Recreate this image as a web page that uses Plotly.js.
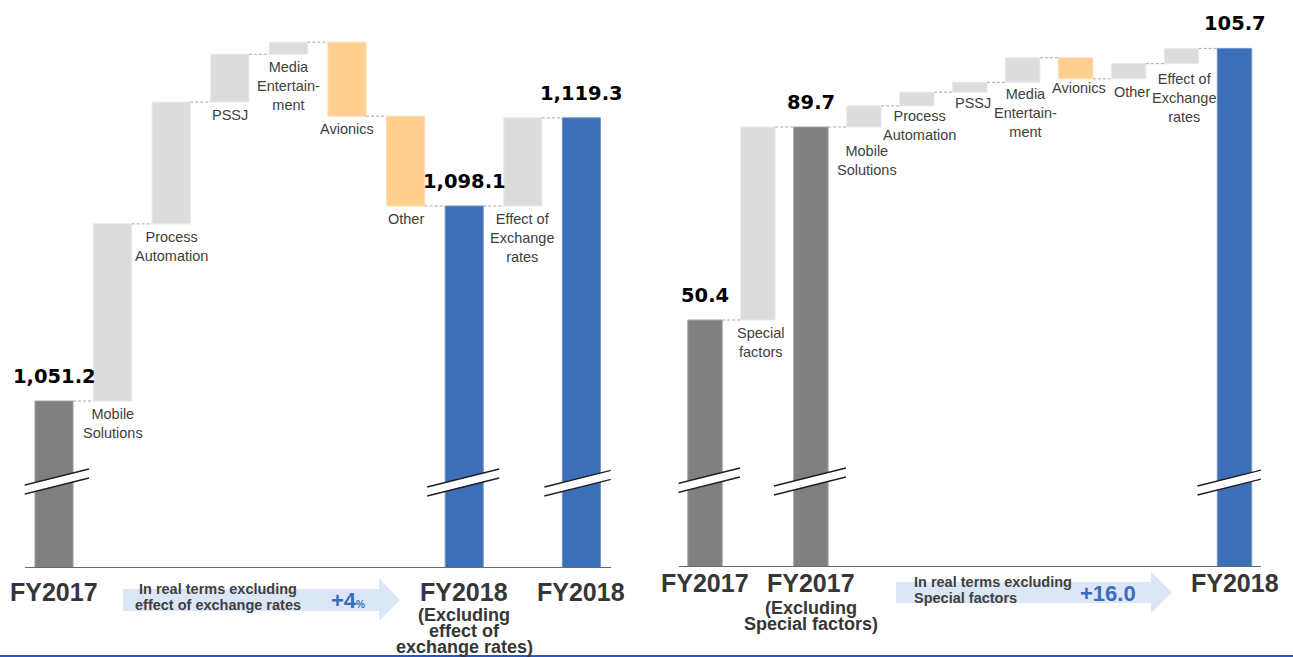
<!DOCTYPE html>
<html>
<head>
<meta charset="utf-8">
<script src="https://cdn.plot.ly/plotly-3.0.1.min.js"></script>
<style>
  html, body { margin: 0; padding: 0; background: #fff; }
  #chart { width: 1293px; height: 657px; }
</style>
</head>
<body>
<div id="chart"></div>
<script>
// ---- Left bridge: sales FY2017 -> FY2018 ----
const leftCategories = ["FY2017", "Mobile Solutions", "Process Automation", "PSSJ",
  "Media Entertainment", "Avionics", "Other",
  "FY2018 (Excluding effect of exchange rates)", "Effect of Exchange rates", "FY2018"];
const leftMeasures = ["absolute", "relative", "relative", "relative", "relative",
  "relative", "relative", "total", "relative", "total"];
const leftValues = [1051.2, 42.6, 29.3, 11.5, 2.9, -17.8, -21.6, 1098.1, 21.2, 1119.3];
const leftBarLabels = ["", "Mobile<br>Solutions", "Process<br>Automation", "PSSJ",
  "Media<br>Entertain-<br>ment", "Avionics", "Other", "", "Effect of<br>Exchange<br>rates", ""];
const leftAxisMain = ["FY2017", "", "", "", "", "", "", "FY2018", "", "FY2018"];
const leftAxisSub = ["", "", "", "", "", "", "", "(Excluding<br>effect of<br>exchange rates)", "", ""];
const leftArrowText = ["In real terms excluding", "effect of exchange rates"];
const leftArrowValue = "+4";
const leftArrowUnit = "%";

// ---- Right bridge: operating profit FY2017 -> FY2018 ----
const rightCategories = ["FY2017", "Special factors", "FY2017 (Excluding Special factors)",
  "Mobile Solutions", "Process Automation", "PSSJ", "Media Entertainment", "Avionics",
  "Other", "Effect of Exchange rates", "FY2018"];
const rightMeasures = ["absolute", "relative", "total", "relative", "relative", "relative",
  "relative", "relative", "relative", "relative", "total"];
const rightValues = [50.4, 39.3, 89.7, 4.3, 2.8, 2.0, 5.0, -4.3, 3.1, 3.1, 105.7];
const rightBarLabels = ["", "Special<br>factors", "", "Mobile<br>Solutions", "Process<br>Automation",
  "PSSJ", "Media<br>Entertain-<br>ment", "Avionics", "Other", "Effect of<br>Exchange<br>rates", ""];
const rightAxisMain = ["FY2017", "", "FY2017", "", "", "", "", "", "", "", "FY2018"];
const rightAxisSub = ["", "", "(Excluding<br>Special factors)", "", "", "", "", "", "", "", ""];
const rightArrowText = ["In real terms excluding", "Special factors"];
const rightArrowValue = "+16.0";

// ---- styling ----
const W = 1293, H = 657;
const COL = { start: "#808080", up: "#dcdcdc", down: "#ffcf8f", end: "#3d6fb8" };
const EDGE = { "#808080": "#a3a3a3", "#dcdcdc": "#e9e9e9", "#ffcf8f": "#ffdcae", "#3d6fb8": "#6f95cc" };
const TEXT = "#404040";
const SANS = "Liberation Sans, Arial, sans-serif";
const VALUE_FONT = "DejaVu Sans, Verdana, sans-serif";
const HALF = 0.325;              // half bar width in category units
const py = y => (H - y) / H;     // page pixel row -> paper fraction
const px = x => x / W;

// label drop below the lower end of each step bar (px)
const leftDrop = leftCategories.map(() => 14);
const rightDrop = [0, 14, 0, 25, 11, 12, 13, 10, 14, 16, 0];

function bridge(cats, measures, values) {
  let level = 0;
  const base = [], height = [], color = [], after = [];
  measures.forEach((m, i) => {
    const v = values[i];
    if (m === "relative") {
      const b = Math.min(level, level + v);
      base.push(b); height.push(Math.abs(v));
      color.push(v >= 0 ? COL.up : COL.down);
      level += v;
    } else {
      base.push(0); height.push(v);
      color.push(cats[i].startsWith("FY2017") ? COL.start : COL.end);
      level = v;
    }
    after.push(level);
  });
  return { base, height, color, after };
}

const L = bridge(leftCategories, leftMeasures, leftValues);
const R = bridge(rightCategories, rightMeasures, rightValues);

function barTrace(cats, b, xa, ya) {
  return {
    type: "bar", x: cats, y: b.height, base: b.base, xaxis: xa, yaxis: ya,
    marker: { color: b.color, line: { color: b.color.map(c => EDGE[c]), width: 1 } },
    hoverinfo: "skip", showlegend: false
  };
}

const shapes = [];
const annotations = [];

function decorate(cats, measures, values, b, labels, drop, xshift, axMain, axSub,
                  xref, yref, lo, mainY, subY0, subStep) {
  // dashed connectors between neighbouring bars
  for (let i = 0; i < cats.length - 1; i++) {
    shapes.push({
      type: "line", xref, yref, x0: i + HALF, x1: i + 1 - HALF, y0: b.after[i], y1: b.after[i],
      line: { color: "#a8a8a8", width: 1, dash: "3px,2px" }, layer: "above"
    });
  }
  measures.forEach((m, i) => {
    if (m !== "relative") {
      // value on top of each total bar
      annotations.push({
        xref, yref, x: cats[i], y: values[i], yanchor: "bottom", xanchor: "center", yshift: 11, showarrow: false,
        text: values[i].toLocaleString("en-US", { minimumFractionDigits: 1, maximumFractionDigits: 1 }),
        font: { family: VALUE_FONT, size: 19.5, color: "#000", weight: "bold" }
      });
      // axis break mark across the bar
      const common = { xref, yref, xsizemode: "pixel", ysizemode: "pixel", xanchor: cats[i], yanchor: lo, layer: "above" };
      shapes.push(Object.assign({}, common, {
        type: "path", path: "M -37,71 L 35,89 L 35,98 L -37,80 Z",
        fillcolor: "#ffffff", line: { width: 0 }
      }));
      shapes.push(Object.assign({}, common, { type: "line", x0: -37, y0: 80, x1: 35, y1: 98, line: { color: "#1e1e1e", width: 1.3 } }));
      shapes.push(Object.assign({}, common, { type: "line", x0: -37, y0: 71, x1: 35, y1: 89, line: { color: "#1e1e1e", width: 1.3 } }));
    }
    if (labels[i]) {
      annotations.push({
        xref, yref, x: cats[i], y: b.base[i], yanchor: "top", xanchor: "center",
        yshift: -(drop[i] - 11), xshift, showarrow: false, text: labels[i],
        font: { family: SANS, size: 14.5, color: TEXT }
      });
    }
    if (axMain[i]) {
      annotations.push({
        xref, yref: "paper", x: cats[i], y: py(mainY), yanchor: "middle", xanchor: "center", showarrow: false,
        text: axMain[i], font: { family: SANS, size: 25, color: "#363636", weight: "bold" }
      });
    }
    if (axSub[i]) {
      axSub[i].split("<br>").forEach((line, k) => {
        annotations.push({
          xref, yref: "paper", x: cats[i], y: py(subY0 + k * subStep), yanchor: "middle", xanchor: "center",
          showarrow: false, text: line, font: { family: SANS, size: 18, color: "#363636", weight: "bold" }
        });
      });
    }
  });
}

const LEFT_RANGE = [1011.28, 1147.64];
const RIGHT_RANGE = [0.31, 115.56];

decorate(leftCategories, leftMeasures, leftValues, L, leftBarLabels, leftDrop, 0,
         leftAxisMain, leftAxisSub, "x", "y", LEFT_RANGE[0], 592, 615, 16);
decorate(rightCategories, rightMeasures, rightValues, R, rightBarLabels, rightDrop, 3,
         rightAxisMain, rightAxisSub, "x2", "y2", RIGHT_RANGE[0], 583, 608, 16);

// block arrows under the bridges
function blockArrow(x0, xNeck, xTip, bodyTop, bodyBot, headTop, headBot) {
  const mid = (bodyTop + bodyBot) / 2;
  const pts = [[x0, bodyTop], [xNeck, bodyTop], [xNeck, headTop], [xTip, mid],
               [xNeck, headBot], [xNeck, bodyBot], [x0, bodyBot]];
  return {
    type: "path", xref: "paper", yref: "paper", layer: "below",
    path: "M " + pts.map(p => px(p[0]).toFixed(5) + "," + py(p[1]).toFixed(5)).join(" L ") + " Z",
    fillcolor: "#dbe6f6", line: { width: 0 }
  };
}
shapes.push(blockArrow(123, 379, 400, 589, 611, 578, 621));
shapes.push(blockArrow(896, 1151, 1172, 582, 603, 572, 613));

// thin rule along the bottom edge
shapes.push({ type: "line", xref: "paper", yref: "paper", x0: 0, x1: 1, y0: py(656), y1: py(656),
              line: { color: "#2456c4", width: 2 } });

const arrowFont = { family: SANS, size: 14.5, color: TEXT, weight: "bold" };
const valueFont = { family: SANS, size: 22, color: "#3b6cc0", weight: "bold" };
annotations.push(
  { xref: "paper", yref: "paper", x: px(218), y: py(589), xanchor: "center", yanchor: "middle", showarrow: false, text: leftArrowText[0], font: arrowFont },
  { xref: "paper", yref: "paper", x: px(218), y: py(605), xanchor: "center", yanchor: "middle", showarrow: false, text: leftArrowText[1], font: arrowFont },
  { xref: "paper", yref: "paper", x: px(329), y: py(600), xanchor: "left", yanchor: "middle", showarrow: false,
    text: leftArrowValue + "<span style='font-size:10px'>" + leftArrowUnit + "</span>", font: valueFont },
  { xref: "paper", yref: "paper", x: px(912), y: py(582), xanchor: "left", yanchor: "middle", showarrow: false, text: rightArrowText[0], font: arrowFont },
  { xref: "paper", yref: "paper", x: px(912), y: py(598), xanchor: "left", yanchor: "middle", showarrow: false, text: rightArrowText[1], font: arrowFont },
  { xref: "paper", yref: "paper", x: px(1108), y: py(593), xanchor: "center", yanchor: "middle", showarrow: false, text: rightArrowValue, font: valueFont }
);

const xCommon = {
  type: "category", showline: true, linecolor: "#6a6a6a", linewidth: 1.3,
  showticklabels: false, ticks: "", showgrid: false, zeroline: false, fixedrange: true
};
const yCommon = { visible: false, showgrid: false, zeroline: false, fixedrange: true };

const layout = {
  width: W, height: H, margin: { l: 0, r: 0, t: 0, b: 0 },
  paper_bgcolor: "#fff", plot_bgcolor: "rgba(0,0,0,0)",
  bargap: 0.35, showlegend: false,
  xaxis: Object.assign({}, xCommon, { domain: [px(24.7), px(610.7)], anchor: "y", range: [-0.5, leftCategories.length - 0.5] }),
  yaxis: Object.assign({}, yCommon, { domain: [py(567), 1], anchor: "x", range: LEFT_RANGE }),
  xaxis2: Object.assign({}, xCommon, { domain: [px(678.5), px(1261)], anchor: "y2", range: [-0.5, rightCategories.length - 0.5] }),
  yaxis2: Object.assign({}, yCommon, { domain: [py(566), 1], anchor: "x2", range: RIGHT_RANGE }),
  shapes, annotations,
  font: { family: SANS }
};

Plotly.newPlot("chart", [
  barTrace(leftCategories, L, "x", "y"),
  barTrace(rightCategories, R, "x2", "y2")
], layout, { staticPlot: true, displayModeBar: false });
</script>
</body>
</html>
